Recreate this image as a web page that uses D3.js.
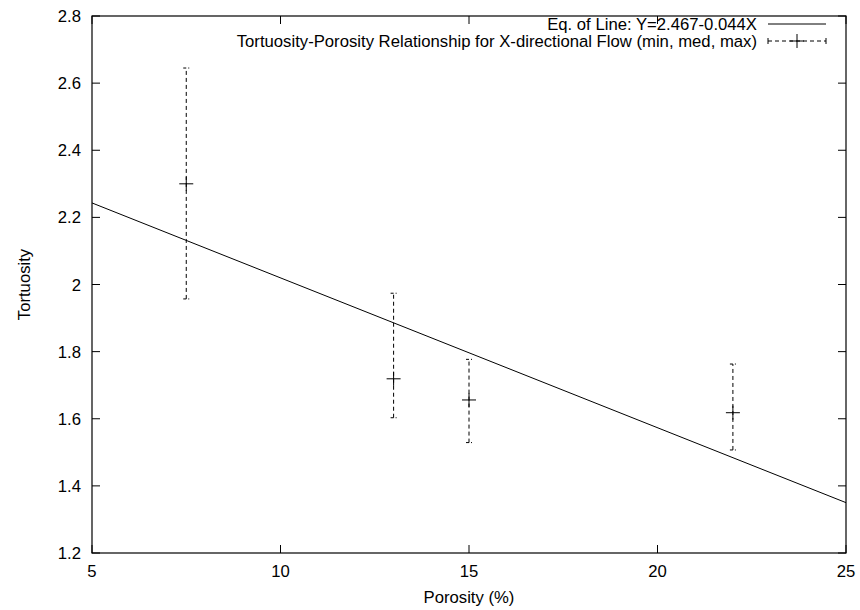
<!DOCTYPE html>
<html>
<head>
<meta charset="utf-8">
<script src="https://cdn.jsdelivr.net/npm/d3@7"></script>
<style>
  body { margin: 0; background: #fff; }
  text { font-family: "Liberation Sans", Arial, sans-serif; font-size: 16.7px; fill: #000; }
</style>
</head>
<body>
<script>
// porosity (%) and tortuosity readings (min, med, max)
var porosity = [7.5, 13, 15, 22];
var tortMin = [1.957, 1.603, 1.529, 1.507];
var tortMed = [2.300, 1.719, 1.656, 1.618];
var tortMax = [2.645, 1.974, 1.777, 1.763];

// fitted line end points
var lineX = [5, 25];
var lineY = [2.243, 1.350];

var xTicks = [5, 10, 15, 20, 25];
var yTicks = [1.2, 1.4, 1.6, 1.8, 2, 2.2, 2.4, 2.6, 2.8];

var legendLabels = [
  "Eq. of Line: Y=2.467-0.044X",
  "Tortuosity-Porosity Relationship for X-directional Flow (min, med, max)"
];

var w = 860, h = 610;
var mLeft = 92, mRight = 846, mTop = 16, mBottom = 553;
var tickLen = 8;

var svg = d3.select("body").append("svg")
  .attr("width", w)
  .attr("height", h);

var x = d3.scaleLinear().domain([5, 25]).range([mLeft, mRight]);
var y = d3.scaleLinear().domain([1.2, 2.8]).range([mBottom, mTop]);

var fmt = function(d) { return String(+d.toFixed(1)); };

// ticks on all four sides, pointing inward
var g = svg.append("g").attr("stroke", "#000").attr("stroke-width", 1);
xTicks.forEach(function(t) {
  g.append("line").attr("x1", x(t)).attr("x2", x(t)).attr("y1", mBottom).attr("y2", mBottom - tickLen);
  g.append("line").attr("x1", x(t)).attr("x2", x(t)).attr("y1", mTop).attr("y2", mTop + tickLen);
});
yTicks.forEach(function(t) {
  g.append("line").attr("x1", mLeft).attr("x2", mLeft + tickLen).attr("y1", y(t)).attr("y2", y(t));
  g.append("line").attr("x1", mRight).attr("x2", mRight - tickLen).attr("y1", y(t)).attr("y2", y(t));
});

svg.selectAll(".xlab")
  .data(xTicks)
  .enter()
  .append("text")
  .attr("class", "xlab")
  .attr("x", function(d) { return x(d); })
  .attr("y", mBottom + 24)
  .attr("text-anchor", "middle")
  .text(function(d) { return d; });

svg.selectAll(".ylab")
  .data(yTicks)
  .enter()
  .append("text")
  .attr("class", "ylab")
  .attr("x", mLeft - 11)
  .attr("y", function(d) { return y(d); })
  .attr("dy", "0.36em")
  .attr("text-anchor", "end")
  .text(fmt);

svg.append("text")
  .attr("x", (mLeft + mRight) / 2)
  .attr("y", 603)
  .attr("text-anchor", "middle")
  .text("Porosity (%)");

svg.append("text")
  .attr("transform", "translate(30," + ((mTop + mBottom) / 2) + ") rotate(-90)")
  .attr("text-anchor", "middle")
  .text("Tortuosity");

// clip for data
svg.append("clipPath").attr("id", "clip")
  .append("rect").attr("x", mLeft).attr("y", mTop).attr("width", mRight - mLeft).attr("height", mBottom - mTop);

var plot = svg.append("g").attr("clip-path", "url(#clip)");

// fitted line
plot.append("path")
  .datum(d3.range(lineX.length))
  .attr("fill", "none")
  .attr("stroke", "#000")
  .attr("stroke-width", 1)
  .attr("d", d3.line()
    .x(function(i) { return x(lineX[i]); })
    .y(function(i) { return y(lineY[i]); }));

// error bars
var idx = d3.range(porosity.length);
var cap = 3, cross = 7;

plot.selectAll(".bar")
  .data(idx)
  .enter()
  .append("line")
  .attr("class", "bar")
  .attr("x1", function(i) { return x(porosity[i]); })
  .attr("x2", function(i) { return x(porosity[i]); })
  .attr("y1", function(i) { return y(tortMin[i]); })
  .attr("y2", function(i) { return y(tortMax[i]); })
  .attr("stroke", "#000")
  .attr("stroke-width", 1)
  .attr("stroke-dasharray", "4,3");

[tortMin, tortMax].forEach(function(arr) {
  plot.selectAll(null)
    .data(idx)
    .enter()
    .append("line")
    .attr("x1", function(i) { return x(porosity[i]) - cap; })
    .attr("x2", function(i) { return x(porosity[i]) + cap; })
    .attr("y1", function(i) { return y(arr[i]); })
    .attr("y2", function(i) { return y(arr[i]); })
    .attr("stroke", "#000")
    .attr("stroke-width", 1)
    .attr("stroke-dasharray", "3,2");
});

plot.selectAll(".cross")
  .data(idx)
  .enter()
  .append("path")
  .attr("class", "cross")
  .attr("fill", "none")
  .attr("stroke", "#000")
  .attr("stroke-width", 1)
  .attr("d", function(i) {
    var cx = x(porosity[i]), cy = y(tortMed[i]);
    return "M" + (cx - cross) + "," + cy + "H" + (cx + cross) +
           "M" + cx + "," + (cy - cross) + "V" + (cy + cross);
  });

// frame
svg.append("rect")
  .attr("x", mLeft).attr("y", mTop)
  .attr("width", mRight - mLeft).attr("height", mBottom - mTop)
  .attr("fill", "none")
  .attr("stroke", "#000")
  .attr("stroke-width", 1.2);

// legend
var legY = [24, 41];
var sx1 = 768, sx2 = 826;

svg.selectAll(".leg")
  .data(legendLabels)
  .enter()
  .append("text")
  .attr("class", "leg")
  .attr("x", 757)
  .attr("y", function(d, i) { return legY[i]; })
  .attr("dy", "0.36em")
  .attr("text-anchor", "end")
  .text(function(d) { return d; });

svg.append("line")
  .attr("x1", sx1).attr("x2", sx2)
  .attr("y1", legY[0]).attr("y2", legY[0])
  .attr("stroke", "#000");

svg.append("line")
  .attr("x1", sx1).attr("x2", sx2)
  .attr("y1", legY[1]).attr("y2", legY[1])
  .attr("stroke", "#000")
  .attr("stroke-dasharray", "4,3");

[sx1, sx2].forEach(function(sx) {
  svg.append("line")
    .attr("x1", sx).attr("x2", sx)
    .attr("y1", legY[1] - cap).attr("y2", legY[1] + cap)
    .attr("stroke", "#000");
});

var mid = (sx1 + sx2) / 2;
svg.append("path")
  .attr("fill", "none")
  .attr("stroke", "#000")
  .attr("d", "M" + (mid - cross) + "," + legY[1] + "H" + (mid + cross) +
             "M" + mid + "," + (legY[1] - cross) + "V" + (legY[1] + cross));
</script>
</body>
</html>
